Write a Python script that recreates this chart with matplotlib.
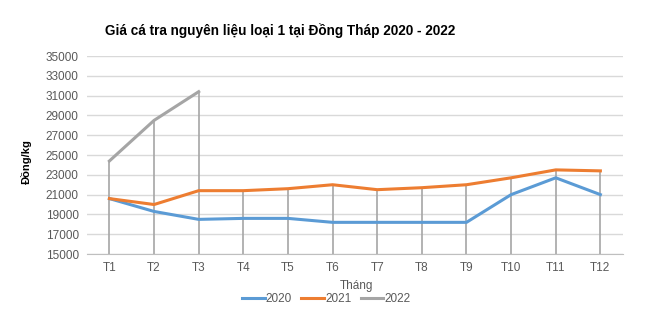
import matplotlib.pyplot as plt
import numpy as np

plt.rcParams['font.family'] = ['Liberation Sans', 'DejaVu Sans']

months = ['T1', 'T2', 'T3', 'T4', 'T5', 'T6', 'T7', 'T8', 'T9', 'T10', 'T11', 'T12']
gia_2020 = [20600, 19300, 18500, 18600, 18600, 18200, 18200, 18200, 18200, 21000, 22700, 21000]
gia_2021 = [20600, 20000, 21400, 21400, 21600, 22000, 21500, 21700, 22000, 22700, 23500, 23400]
gia_2022 = [24400, 28500, 31400]

fig = plt.figure(figsize=(6.5, 3.24), dpi=100)
ax = fig.add_axes([0.134, 0.216, 0.824, 0.611])

x = np.arange(len(months))

# drop lines from the highest series down to the axis
tops = [max(v) for v in zip(gia_2020, gia_2021)]
for i, v in enumerate(gia_2022):
    tops[i] = max(tops[i], v)
ax.vlines(x, 15000, tops, color='#a6a6a6', lw=1.2, zorder=2)

ax.plot(x, gia_2020, color='#5b9bd5', lw=2.2, label='2020', zorder=3)
ax.plot(x, gia_2021, color='#ed7d31', lw=2.2, label='2021', zorder=3)
ax.plot(x[:len(gia_2022)], gia_2022, color='#a5a5a5', lw=2.2, label='2022', zorder=3)

ax.set_xlim(-0.5, 11.5)
ax.set_ylim(15000, 35000)
ax.set_yticks(range(15000, 35001, 2000))
ax.set_xticks(x)
ax.set_xticklabels(months)
ax.grid(axis='y', color='#d9d9d9', lw=1)
ax.set_axisbelow(True)
for s in ['top', 'right', 'left']:
    ax.spines[s].set_visible(False)
ax.spines['bottom'].set_color('#bfbfbf')
ax.tick_params(length=0, labelsize=8.5, labelcolor='#595959', pad=6)

fig.text(0.162, 0.905, 'Giá cá tra nguyên liệu loại 1 tại Đồng Tháp 2020 - 2022',
         fontsize=9.8, fontweight='bold', color='#000000', va='center')
fig.text(0.04, 0.5, 'Đồng/kg', rotation=90, fontsize=8, fontweight='bold',
         va='center', ha='center')
fig.text(0.548, 0.118, 'Tháng', fontsize=8.5, color='#595959', ha='center', va='center')

fig.legend(loc='center', bbox_to_anchor=(0.502, 0.078), ncol=3, frameon=False,
           fontsize=8.5, handlelength=1.9, handletextpad=0.1, columnspacing=0.8,
           labelcolor='#595959')

fig.savefig('out.png', dpi=100, facecolor='white')
